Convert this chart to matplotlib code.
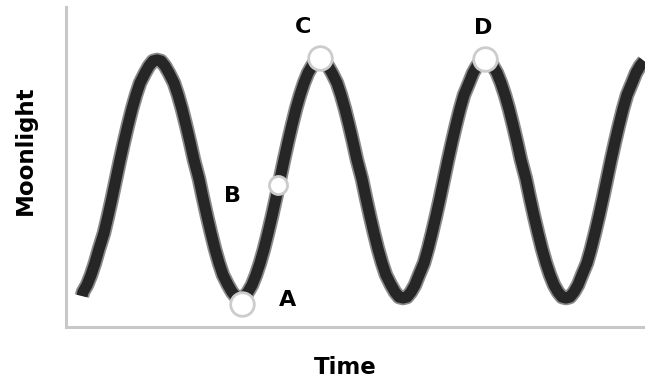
import matplotlib
matplotlib.use('Agg')
import matplotlib.pyplot as plt

# curve, one list pair per half wave
rise = [30, 35, 42, 52, 64, 78, 94, 111, 129, 148, 167, 185, 202, 218, 232, 244, 254, 261, 266, 267]
fall = [266, 261, 254, 244, 232, 218, 202, 185, 167, 148, 129, 111, 94, 78, 64, 52, 42, 35, 30, 29]

t1 = [82, 83, 87, 91, 95, 99, 104, 108, 112, 116, 120, 124, 128, 132, 136, 140, 145, 149, 153, 157]
m1 = [31, 35, 42, 52, 64, 78, 94, 111, 129, 148, 167, 185, 202, 218, 232, 244, 254, 261, 266, 267]
t2 = [161, 165, 169, 174, 178, 182, 186, 190, 194, 199, 203, 207, 211, 215, 219, 223, 228, 232, 236, 240]
t3 = [244, 248, 252, 256, 260, 264, 268, 272, 276, 280, 284, 288, 292, 296, 300, 304, 308, 312, 316, 320]
t4 = [324, 328, 332, 337, 341, 345, 349, 353, 357, 362, 366, 370, 374, 378, 382, 386, 391, 395, 399, 403]
t5 = [407, 411, 415, 419, 424, 428, 432, 436, 440, 444, 448, 452, 456, 460, 464, 469, 473, 477, 481, 485]
t6 = [489, 493, 497, 501, 505, 509, 513, 517, 521, 526, 530, 534, 538, 542, 546, 550, 554, 558, 562, 566]
t7 = [570, 574, 578, 582, 587, 591, 595, 599, 603, 607, 611, 615, 619, 623, 627, 632, 636, 640, 644]

time = t1 + t2 + t3 + t4 + t5 + t6 + t7
moonlight = m1 + fall + rise + fall + rise + fall + rise[:-1]

point_labels = ['A', 'B', 'C', 'D']
point_time = [242, 278, 320, 485]
point_moon = [23, 142, 269, 268]
point_size = [17, 13, 17, 17]
label_time = [288, 233, 303, 483]
label_moon = [27, 131, 300, 299]

fig = plt.figure(figsize=(6.45, 3.83), dpi=100)
ax = fig.add_axes([66/645, 56/383, 579/645, 320/383])

# soft edge + dark core, like the blurred stroke in the original
ax.plot(time, moonlight, color='#8a8a8a', lw=10.5, solid_capstyle='butt',
        solid_joinstyle='round')
ax.plot(time, moonlight, color='#262626', lw=8, solid_capstyle='butt',
        solid_joinstyle='round')
for t, m, s in zip(point_time, point_moon, point_size):
    ax.plot(t, m, 'o', ms=s, mfc='white', mec='#cccccc', mew=2)
for lab, t, m in zip(point_labels, label_time, label_moon):
    ax.text(t, m, lab, fontsize=16, fontweight='bold', family='DejaVu Sans',
            ha='center', va='center', color='black')

ax.set_xlim(66, 645)
ax.set_ylim(0, 320)
ax.set_xticks([])
ax.set_yticks([])
for side in ['top', 'right']:
    ax.spines[side].set_visible(False)
for side in ['left', 'bottom']:
    ax.spines[side].set_color('#c8c8c8')
    ax.spines[side].set_linewidth(2.2)

fig.text(345/645, 1 - 368/383, 'Time', fontsize=16.5, fontweight='bold',
         family='DejaVu Sans', ha='center', va='center')
fig.text(25/645, 1 - 150/383, 'Moonlight', fontsize=16.5, fontweight='bold',
         family='DejaVu Sans', ha='center', va='center', rotation=90)

plt.savefig('out.png', dpi=100)
